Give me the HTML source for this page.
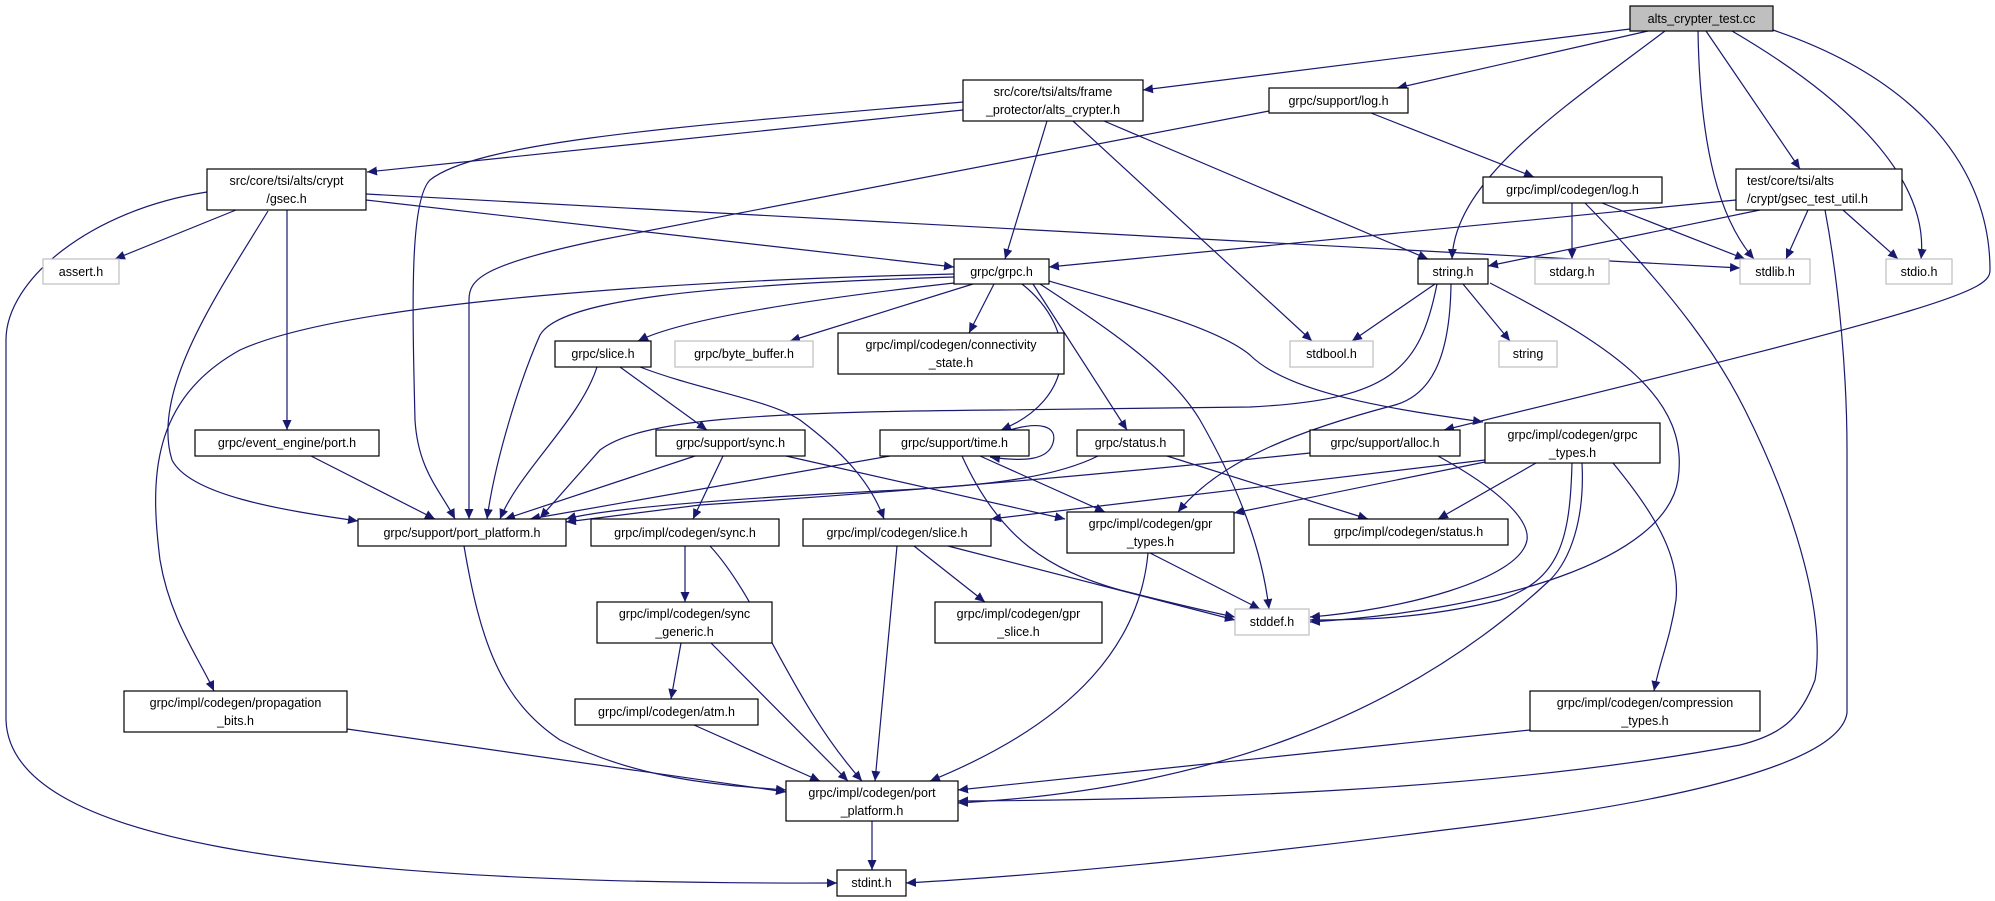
<!DOCTYPE html>
<html><head><meta charset="utf-8"><style>
html,body{margin:0;padding:0;background:#fff;}
svg{display:block;}
text{font-family:"Liberation Sans",sans-serif;font-size:12.5px;fill:#000;}
.e{fill:none;stroke:#191970;stroke-width:1.2;marker-end:url(#a);}
.n{fill:#fff;stroke:#000;stroke-width:1.2;}
.g{fill:#fff;stroke:#bfbfbf;stroke-width:1.2;}
</style></head><body>
<svg width="1995" height="901" viewBox="0 0 1995 901" xmlns="http://www.w3.org/2000/svg">
<defs><marker id="a" markerWidth="11" markerHeight="9" refX="10" refY="4.5" orient="auto" markerUnits="userSpaceOnUse"><path d="M0,0 L10,4.5 L0,9 z" fill="#191970"/></marker></defs>
<g>
<path class="e" d="M1630,29 L1143,90"/>
<path class="e" d="M1648,31 L1397,88"/>
<path class="e" d="M1665,31 C1560,110 1455,180 1452,259"/>
<path class="e" d="M1698,31 C1700,150 1720,220 1754,259"/>
<path class="e" d="M1706,31 L1800,169"/>
<path class="e" d="M1732,31 C1850,100 1930,180 1921,259"/>
<path class="e" d="M1773,30 C1920,80 1990,170 1990,270 C1990,290 1960,305 1444,430"/>
<path class="e" d="M963,110 L367,172"/>
<path class="e" d="M963,102 C700,125 480,140 430,180 C410,200 412,300 415,420 C418,470 440,490 455,519"/>
<path class="e" d="M1047,121 L1005,259"/>
<path class="e" d="M1073,121 L1312,341"/>
<path class="e" d="M1104,121 L1428,259"/>
<path class="e" d="M1269,111 L600,240 C480,265 469,280 469,300 L469,519"/>
<path class="e" d="M1371,113 L1534,177"/>
<path class="e" d="M236,210 L115,259"/>
<path class="e" d="M287,210 L287,430"/>
<path class="e" d="M268,211 C220,290 150,390 172,460 C190,495 280,510 358,521"/>
<path class="e" d="M366,200 L954,267"/>
<path class="e" d="M366,194 L1740,268"/>
<path class="e" d="M207,192 C90,210 6,280 6,340 L6,720 C10,840 300,885 837,883"/>
<path class="e" d="M963,282 C800,300 680,320 638,341"/>
<path class="e" d="M973,284 L790,341"/>
<path class="e" d="M994,284 L969,333"/>
<path class="e" d="M954,274 C700,280 350,300 240,350 C150,400 150,480 160,560 C170,620 200,660 214,691"/>
<path class="e" d="M954,277 C700,285 560,300 540,335 C520,380 495,460 487,519"/>
<path class="e" d="M1022,284 C1080,330 1075,400 1001,430"/>
<path class="e" d="M1033,284 L1127,430"/>
<path class="e" d="M1040,284 C1110,330 1170,370 1200,420 C1240,490 1262,550 1269,609"/>
<path class="e" d="M1049,281 C1150,310 1220,330 1250,355 C1290,395 1400,410 1483,422"/>
<path class="e" d="M1435,284 L1352,341"/>
<path class="e" d="M1463,284 L1510,341"/>
<path class="e" d="M1490,283 C1620,350 1690,400 1678,480 C1665,560 1500,610 1310,622"/>
<path class="e" d="M1437,284 C1420,370 1390,400 1250,407 L1000,410 C750,412 640,420 600,450 L540,518"/>
<path class="e" d="M1451,284 C1450,360 1430,395 1395,405 C1300,430 1220,460 1178,512"/>
<path class="e" d="M1572,203 L1572,259"/>
<path class="e" d="M1602,203 L1745,259"/>
<path class="e" d="M1585,203 C1680,300 1720,360 1745,410 C1800,520 1825,620 1815,680 C1800,720 1780,735 1740,745 C1500,790 1200,800 958,801"/>
<path class="e" d="M1736,200 L1049,267"/>
<path class="e" d="M1760,210 L1488,266"/>
<path class="e" d="M1808,210 L1786,259"/>
<path class="e" d="M1843,210 L1898,259"/>
<path class="e" d="M1825,210 C1840,290 1847,380 1847,450 L1847,713 C1840,760 1700,800 1444,830 C1250,855 1050,875 906,883"/>
<path class="e" d="M597,367 C580,420 520,470 500,519"/>
<path class="e" d="M620,367 L707,430"/>
<path class="e" d="M640,367 C700,390 770,400 800,420 C840,450 870,480 884,519"/>
<path class="e" d="M311,456 L435,519"/>
<path class="e" d="M695,456 L505,519"/>
<path class="e" d="M723,456 L693,519"/>
<path class="e" d="M786,456 L1065,519"/>
<path class="e" d="M890,456 L530,519"/>
<path class="e" d="M980,456 L1105,512"/>
<path class="e" d="M962,456 C1000,540 1050,570 1120,590 C1180,605 1210,612 1235,617"/>
<path class="e" d="M1010,430 C1040,421 1058,426 1053,443 C1048,460 1025,462 990,457"/>
<path class="e" d="M1098,456 C1060,475 1000,485 900,490 C700,500 600,510 566,519"/>
<path class="e" d="M1167,456 L1368,519"/>
<path class="e" d="M1310,453 C1100,475 900,492 700,505 L566,522"/>
<path class="e" d="M1438,456 C1500,490 1530,520 1527,540 C1520,580 1400,610 1310,617"/>
<path class="e" d="M1485,460 L991,519"/>
<path class="e" d="M1485,462 L1234,513"/>
<path class="e" d="M1536,463 L1438,519"/>
<path class="e" d="M1572,463 C1570,540 1560,580 1500,600 C1420,620 1350,620 1310,620"/>
<path class="e" d="M1582,463 C1585,520 1570,560 1550,580 C1400,720 1200,790 958,803"/>
<path class="e" d="M1613,463 C1660,520 1680,560 1676,600 C1670,640 1660,660 1654,691"/>
<path class="e" d="M685,546 L685,602"/>
<path class="e" d="M710,546 C760,600 790,700 862,781"/>
<path class="e" d="M897,546 L875,781"/>
<path class="e" d="M914,546 L985,602"/>
<path class="e" d="M948,546 L1235,620"/>
<path class="e" d="M1150,553 L1260,609"/>
<path class="e" d="M1148,553 C1140,640 1080,720 930,781"/>
<path class="e" d="M681,643 L671,699"/>
<path class="e" d="M711,643 L848,781"/>
<path class="e" d="M694,725 L820,781"/>
<path class="e" d="M347,729 L786,792"/>
<path class="e" d="M464,546 C480,640 500,700 560,740 C640,780 720,785 786,790"/>
<path class="e" d="M1530,730 L958,790"/>
<path class="e" d="M872,821 L872,870"/>
</g>
<g text-anchor="middle">
<rect x="1630" y="6" width="143" height="25" fill="#bfbfbf" stroke="#000" stroke-width="1.2"/><text x="1701.5" y="23">alts_crypter_test.cc</text>
<rect class="n" x="963" y="80" width="180" height="41"/><text x="1053" y="96">src/core/tsi/alts/frame</text><text x="1053" y="114">_protector/alts_crypter.h</text>
<rect class="n" x="1269" y="88" width="139" height="25"/><text x="1338.5" y="105">grpc/support/log.h</text>
<rect class="n" x="207" y="169" width="159" height="41"/><text x="286.5" y="185">src/core/tsi/alts/crypt</text><text x="286.5" y="203">/gsec.h</text>
<rect class="n" x="1483" y="177" width="179" height="26"/><text x="1572.5" y="194">grpc/impl/codegen/log.h</text>
<rect class="n" x="1736" y="169" width="166" height="41"/><text x="1747" y="185" text-anchor="start">test/core/tsi/alts</text><text x="1747" y="203" text-anchor="start">/crypt/gsec_test_util.h</text>
<rect class="g" x="43" y="259" width="76" height="25"/><text x="81" y="276">assert.h</text>
<rect class="n" x="954" y="259" width="95" height="25"/><text x="1001.5" y="276">grpc/grpc.h</text>
<rect class="n" x="1418" y="259" width="70" height="25"/><text x="1453" y="276">string.h</text>
<rect class="g" x="1535" y="259" width="74" height="25"/><text x="1572" y="276">stdarg.h</text>
<rect class="g" x="1740" y="259" width="70" height="25"/><text x="1775" y="276">stdlib.h</text>
<rect class="g" x="1886" y="259" width="66" height="25"/><text x="1919" y="276">stdio.h</text>
<rect class="n" x="555" y="341" width="96" height="26"/><text x="603" y="358">grpc/slice.h</text>
<rect class="g" x="675" y="341" width="138" height="26"/><text x="744" y="358">grpc/byte_buffer.h</text>
<rect class="n" x="838" y="333" width="226" height="41"/><text x="951" y="349">grpc/impl/codegen/connectivity</text><text x="951" y="367">_state.h</text>
<rect class="g" x="1290" y="341" width="83" height="26"/><text x="1331.5" y="358">stdbool.h</text>
<rect class="g" x="1499" y="341" width="58" height="26"/><text x="1528" y="358">string</text>
<rect class="n" x="195" y="430" width="184" height="26"/><text x="287" y="447">grpc/event_engine/port.h</text>
<rect class="n" x="656" y="430" width="149" height="26"/><text x="730.5" y="447">grpc/support/sync.h</text>
<rect class="n" x="880" y="430" width="149" height="26"/><text x="954.5" y="447">grpc/support/time.h</text>
<rect class="n" x="1077" y="430" width="107" height="26"/><text x="1130.5" y="447">grpc/status.h</text>
<rect class="n" x="1310" y="430" width="150" height="26"/><text x="1385" y="447">grpc/support/alloc.h</text>
<rect class="n" x="1485" y="423" width="175" height="40"/><text x="1572.5" y="439">grpc/impl/codegen/grpc</text><text x="1572.5" y="457">_types.h</text>
<rect class="n" x="358" y="519" width="208" height="27"/><text x="462" y="537">grpc/support/port_platform.h</text>
<rect class="n" x="591" y="519" width="188" height="27"/><text x="685" y="537">grpc/impl/codegen/sync.h</text>
<rect class="n" x="803" y="519" width="188" height="27"/><text x="897" y="537">grpc/impl/codegen/slice.h</text>
<rect class="n" x="1067" y="512" width="167" height="41"/><text x="1150.5" y="528">grpc/impl/codegen/gpr</text><text x="1150.5" y="546">_types.h</text>
<rect class="n" x="1309" y="519" width="199" height="26"/><text x="1408.5" y="536">grpc/impl/codegen/status.h</text>
<rect class="n" x="597" y="602" width="175" height="41"/><text x="684.5" y="618">grpc/impl/codegen/sync</text><text x="684.5" y="636">_generic.h</text>
<rect class="n" x="935" y="602" width="167" height="41"/><text x="1018.5" y="618">grpc/impl/codegen/gpr</text><text x="1018.5" y="636">_slice.h</text>
<rect class="g" x="1235" y="609" width="74" height="26"/><text x="1272" y="626">stddef.h</text>
<rect class="n" x="124" y="691" width="223" height="41"/><text x="235.5" y="707">grpc/impl/codegen/propagation</text><text x="235.5" y="725">_bits.h</text>
<rect class="n" x="575" y="699" width="183" height="26"/><text x="666.5" y="716">grpc/impl/codegen/atm.h</text>
<rect class="n" x="1530" y="691" width="230" height="40"/><text x="1645" y="707">grpc/impl/codegen/compression</text><text x="1645" y="725">_types.h</text>
<rect class="n" x="786" y="781" width="172" height="40"/><text x="872" y="797">grpc/impl/codegen/port</text><text x="872" y="815">_platform.h</text>
<rect class="n" x="837" y="870" width="69" height="26"/><text x="871.5" y="887">stdint.h</text>
</g>
</svg>
</body></html>
